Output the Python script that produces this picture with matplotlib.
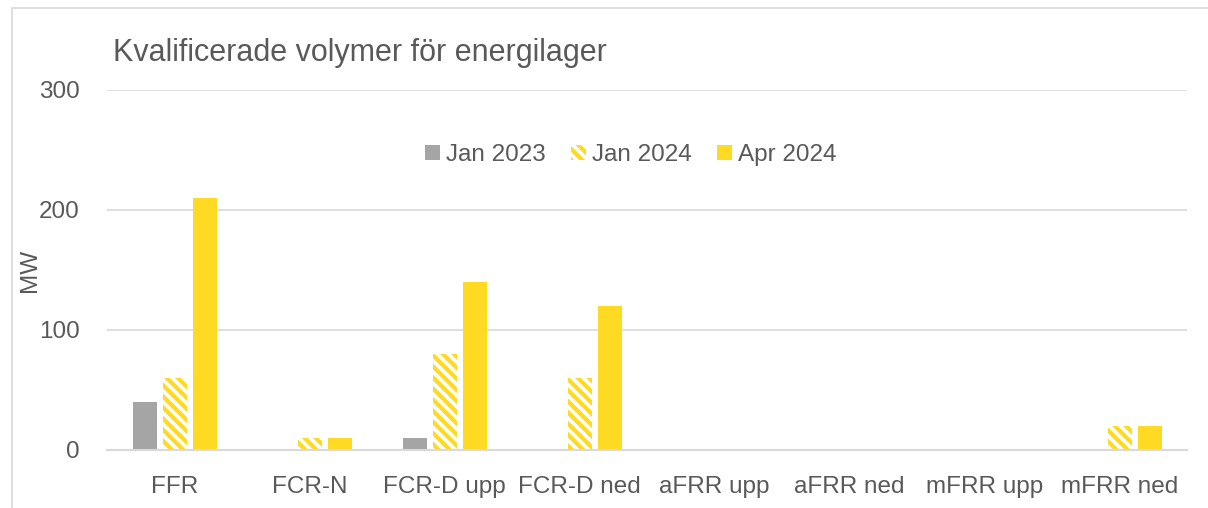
import matplotlib
matplotlib.use("Agg")
import matplotlib.pyplot as plt
import numpy as np
from matplotlib.patches import Rectangle

categories = ["FFR", "FCR-N", "FCR-D upp", "FCR-D ned", "aFRR upp", "aFRR ned", "mFRR upp", "mFRR ned"]
jan2023 = [40, 0, 10, 0, 0, 0, 0, 0]
jan2024 = [60, 10, 80, 60, 0, 0, 0, 20]
apr2024 = [210, 10, 140, 120, 0, 0, 0, 20]
yticks = [0, 100, 200, 300]

plt.rcParams['font.family'] = ['Liberation Sans', 'DejaVu Sans']
plt.rcParams['hatch.linewidth'] = 3.0

W, H = 1208, 508
fig = plt.figure(figsize=(W/100, H/100), dpi=100)
ax = fig.add_axes([107/W, 1-450/H, (1187-107)/W, (450-90)/H])

gray = "#a5a5a5"
yellow = "#ffda22"
text_c = "#595959"
fs = 17.5

x = np.arange(len(categories))
bw = 24/135
step = 30/135
ax.bar(x - step, jan2023, bw, color=gray, label="Jan 2023", zorder=2)
ax.bar(x, jan2024, bw, facecolor="white", edgecolor=yellow, hatch="\\\\\\", linewidth=0, label="Jan 2024", zorder=2)
ax.bar(x + step, apr2024, bw, color=yellow, label="Apr 2024", zorder=2)

ax.set_xlim(-0.5, len(categories) - 0.5)
ax.set_ylim(0, 300)
ax.set_yticks(yticks)
ax.set_xticks(x)
ax.set_xticklabels(categories)
ax.tick_params(axis='both', length=0, labelsize=fs, colors=text_c)
ax.tick_params(axis='x', pad=19)
ax.tick_params(axis='y', pad=19.5)
ax.grid(axis='y', color="#d9d9d9", linewidth=1.2, zorder=0)
for s in ["top", "right", "left"]:
    ax.spines[s].set_visible(False)
ax.spines["bottom"].set_color("#d9d9d9")
ax.spines["bottom"].set_linewidth(1.5)
ax.set_axisbelow(True)

fig.text(30/W, 1-270/H, "MW", rotation=90, ha='center', va='center', fontsize=fs, color=text_c)
fig.text(113/W, 1-53/H, "Kvalificerade volymer för energilager", ha='left', va='center', fontsize=22, color=text_c)

leg = ax.legend(loc='center', bbox_to_anchor=((631-107)/(1187-107), (450-155)/(450-90)), ncol=3, frameon=False,
                fontsize=fs, labelcolor=text_c, handlelength=0.6, handleheight=0.6, handletextpad=0.25, columnspacing=1.05)

fig.patches.append(Rectangle((12/W, -0.1), 1.5, 1 - 8/H + 0.1, transform=fig.transFigure,
                             fill=False, edgecolor="#d9d9d9", linewidth=1.2))

fig.savefig("out.png", dpi=100, facecolor="white")
